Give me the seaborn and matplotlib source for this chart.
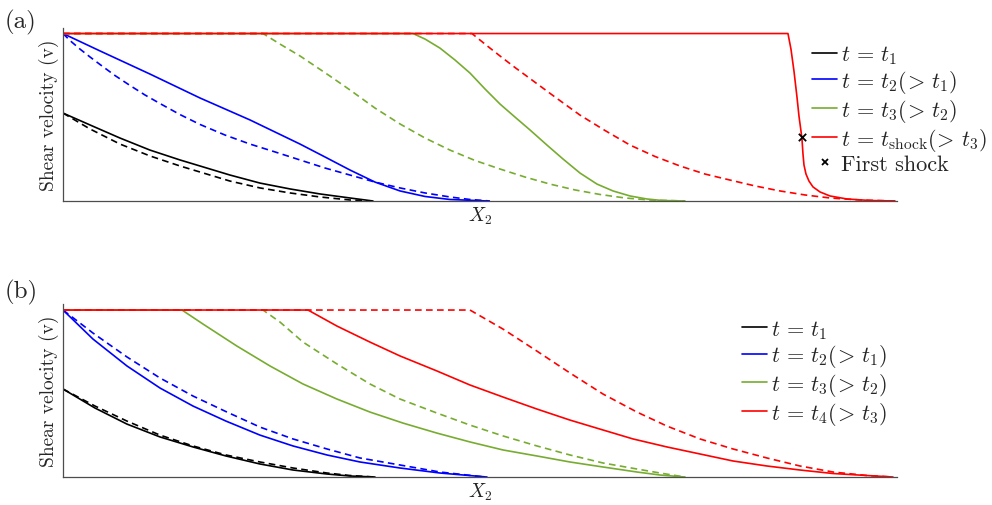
import matplotlib
matplotlib.use("Agg")
import matplotlib.pyplot as plt
import seaborn as sns
from matplotlib.lines import Line2D

sns.set_theme(style="white")
plt.rcParams["font.family"] = "serif"
plt.rcParams["font.serif"] = ["cmr10"]
plt.rcParams["mathtext.fontset"] = "cm"
plt.rcParams["axes.unicode_minus"] = False

# X2 in percent of the domain, v normalised to the boundary velocity
# panel (a): nonlinear (solid) vs linear (dashed) profiles
a_t1_x = [0, 3.24, 6.83, 10.43, 14.03, 16.43, 20.02, 23.62, 27.22, 30.82, 34.41, 37.17]
a_t1_v = [0.525, 0.454, 0.376, 0.304, 0.245, 0.209, 0.155, 0.107, 0.072, 0.042, 0.018, 0.0]
a_t1_lin_x = [0, 3.24, 6.83, 10.43, 14.03, 16.43, 20.02, 23.62, 27.22, 30.82, 34.41, 36.81]
a_t1_lin_v = [0.525, 0.430, 0.340, 0.269, 0.209, 0.173, 0.119, 0.078, 0.048, 0.024, 0.006, 0.0]

a_t2_x = [0, 4.44, 10.43, 16.43, 22.42, 28.42, 31.41, 34.41, 37.41, 40.41, 43.41, 46.40, 50.96]
a_t2_v = [1.0, 0.896, 0.758, 0.615, 0.484, 0.340, 0.263, 0.185, 0.113, 0.060, 0.027, 0.009, 0.0]
a_t2_lin_x = [0, 0.84, 2.04, 3.24, 4.44, 6.24, 8.03, 9.83, 11.63, 14.03, 16.43, 19.42, 22.42,
              25.42, 28.42, 31.41, 34.41, 37.41, 40.41, 43.41, 46.40, 48.80, 51.20]
a_t2_lin_v = [1.0, 0.958, 0.907, 0.860, 0.815, 0.749, 0.690, 0.633, 0.582, 0.516, 0.457, 0.394,
              0.340, 0.293, 0.245, 0.197, 0.155, 0.113, 0.078, 0.048, 0.024, 0.009, 0.0]

a_t3_x = [0, 41.97, 43.41, 45.20, 47.00, 48.80, 50.60, 52.40, 54.20, 56.00, 58.03, 59.95,
          61.99, 64.03, 65.95, 67.99, 70.02, 71.82, 74.58]
a_t3_v = [1.0, 1.0, 0.967, 0.913, 0.842, 0.764, 0.669, 0.579, 0.501, 0.424, 0.334, 0.251,
          0.167, 0.101, 0.060, 0.030, 0.012, 0.003, 0.0]
a_t3_lin_x = [0, 23.98, 26.02, 28.42, 30.22, 32.01, 34.41, 37.41, 40.41, 43.41, 46.40, 49.40,
              52.40, 55.40, 58.39, 61.39, 64.39, 67.39, 70.38, 74.58]
a_t3_lin_v = [1.0, 1.0, 0.937, 0.866, 0.806, 0.746, 0.663, 0.555, 0.460, 0.376, 0.304, 0.242,
              0.191, 0.143, 0.101, 0.066, 0.039, 0.018, 0.006, 0.0]

a_ts_x = [0, 86.93, 87.29, 87.65, 88.01, 88.25, 88.49, 88.61, 88.73, 88.85, 89.09, 89.45,
          89.93, 90.77, 91.97, 94.00, 96.76, 99.76]
a_ts_v = [1.0, 1.0, 0.907, 0.776, 0.621, 0.507, 0.418, 0.370, 0.281, 0.215, 0.161, 0.119,
          0.084, 0.054, 0.030, 0.012, 0.003, 0.0]
a_ts_lin_x = [0, 49.04, 50.00, 51.20, 52.40, 54.20, 56.00, 58.99, 61.99, 64.99, 67.99, 70.98,
              73.98, 76.98, 79.98, 82.97, 85.97, 88.97, 91.97, 95.56, 99.76]
a_ts_lin_v = [1.0, 1.0, 0.961, 0.913, 0.866, 0.797, 0.731, 0.621, 0.513, 0.421, 0.334, 0.266,
              0.209, 0.161, 0.125, 0.090, 0.060, 0.036, 0.018, 0.006, 0.0]

shock_x = [88.58]
shock_v = [0.38]

# panel (b)
b_t1_x = [0, 3.84, 7.67, 11.63, 15.59, 19.54, 23.62, 27.58, 31.65, 34.41, 37.41]
b_t1_v = [0.527, 0.413, 0.317, 0.240, 0.180, 0.126, 0.078, 0.042, 0.018, 0.006, 0.0]
b_t1_lin_x = [0, 3.84, 7.67, 11.63, 15.59, 19.54, 23.62, 27.58, 31.65, 34.41, 37.41]
b_t1_lin_v = [0.527, 0.425, 0.335, 0.251, 0.186, 0.132, 0.090, 0.054, 0.024, 0.009, 0.0]

b_t2_x = [0, 3.60, 7.67, 11.63, 15.59, 19.54, 23.62, 27.58, 31.65, 35.61, 40.41, 45.20, 50.84]
b_t2_v = [1.0, 0.826, 0.665, 0.533, 0.425, 0.335, 0.251, 0.186, 0.132, 0.090, 0.054, 0.024, 0.0]
b_t2_lin_x = [0, 3.60, 7.67, 11.63, 15.59, 19.66, 23.62, 27.58, 31.65, 35.61, 40.41, 45.20, 50.60]
b_t2_lin_v = [1.0, 0.862, 0.719, 0.593, 0.485, 0.389, 0.299, 0.228, 0.168, 0.114, 0.072, 0.030, 0.0]

b_t3_x = [0, 14.27, 16.79, 20.86, 24.82, 28.78, 32.85, 36.81, 40.77, 44.84, 48.80, 52.76,
          56.83, 60.79, 64.75, 68.82, 71.58, 74.58]
b_t3_v = [1.0, 1.0, 0.916, 0.784, 0.665, 0.557, 0.467, 0.389, 0.323, 0.263, 0.210, 0.162,
          0.126, 0.090, 0.060, 0.030, 0.012, 0.0]
b_t3_lin_x = [0, 23.98, 26.02, 28.78, 32.85, 36.81, 40.41, 44.84, 48.80, 52.76, 56.83,
              60.79, 64.75, 68.82, 71.58, 74.58]
b_t3_lin_v = [1.0, 1.0, 0.928, 0.808, 0.677, 0.557, 0.467, 0.383, 0.311, 0.246, 0.186,
              0.132, 0.084, 0.048, 0.024, 0.0]

b_t4_x = [0, 29.38, 32.85, 36.81, 40.41, 44.84, 48.80, 52.76, 56.83, 60.79, 64.39, 68.35,
          72.42, 76.38, 80.34, 84.41, 88.37, 92.33, 96.40, 99.52]
b_t4_v = [1.0, 1.0, 0.904, 0.808, 0.725, 0.635, 0.551, 0.479, 0.407, 0.341, 0.287, 0.228,
          0.180, 0.138, 0.096, 0.066, 0.042, 0.021, 0.009, 0.0]
b_t4_lin_x = [0, 48.80, 52.76, 56.83, 60.79, 64.75, 68.82, 72.42, 76.38, 80.34, 84.41,
              88.37, 92.33, 96.40, 99.52]
b_t4_lin_v = [1.0, 1.0, 0.886, 0.754, 0.623, 0.497, 0.389, 0.305, 0.228, 0.168, 0.114,
              0.066, 0.030, 0.009, 0.0]

colors = ["black", "#0000FF", "#77AC30", "#FF0000"]
labels_a = [r"$t\,=\,t_1$", r"$t\,=\,t_2(\!>\,t_1)$", r"$t\,=\,t_3(\!>\,t_2)$",
            r"$t\,=\,t_{\rm shock}(\!>\,t_3)$", "First shock"]
labels_b = [r"$t\,=\,t_1$", r"$t\,=\,t_2(\!>\,t_1)$", r"$t\,=\,t_3(\!>\,t_2)$",
            r"$t\,=\,t_4(\!>\,t_3)$"]

curves_a = [(a_t1_x, a_t1_v, a_t1_lin_x, a_t1_lin_v),
            (a_t2_x, a_t2_v, a_t2_lin_x, a_t2_lin_v),
            (a_t3_x, a_t3_v, a_t3_lin_x, a_t3_lin_v),
            (a_ts_x, a_ts_v, a_ts_lin_x, a_ts_lin_v)]
curves_b = [(b_t1_x, b_t1_v, b_t1_lin_x, b_t1_lin_v),
            (b_t2_x, b_t2_v, b_t2_lin_x, b_t2_lin_v),
            (b_t3_x, b_t3_v, b_t3_lin_x, b_t3_lin_v),
            (b_t4_x, b_t4_v, b_t4_lin_x, b_t4_lin_v)]

LW = 1.2
dash = (0, (4, 2.6))

fig = plt.figure(figsize=(9.92, 5.06), dpi=100)
ax_a = fig.add_axes([0.0635, 0.6008, 0.8407, 0.3419])
ax_b = fig.add_axes([0.0635, 0.0553, 0.8407, 0.3419])


def draw_panel(ax, curves, ytop):
    for (xs, vs, xl, vl), c in zip(curves, colors):
        sns.lineplot(x=xs, y=vs, ax=ax, color=c, lw=LW, estimator=None, sort=False, legend=False)
        sns.lineplot(x=xl, y=vl, ax=ax, color=c, lw=LW, linestyle=dash, estimator=None,
                     sort=False, legend=False)
    ax.set_xlim(0, 100)
    ax.set_ylim(0, ytop)
    ax.set_xticks([])
    ax.set_yticks([])
    for s in ["top", "right"]:
        ax.spines[s].set_visible(False)
    for s in ["left", "bottom"]:
        ax.spines[s].set_color("0.3")
        ax.spines[s].set_linewidth(0.9)
    ax.set_ylabel("Shear velocity (v)", fontsize=14, labelpad=3)
    ax.set_xlabel(r"$X_2$", fontsize=14, labelpad=3)


draw_panel(ax_a, curves_a, 1.033)
draw_panel(ax_b, curves_b, 1.036)

sns.scatterplot(x=shock_x, y=shock_v, ax=ax_a, marker="x", color="black", s=28,
                linewidth=1.3, zorder=5, legend=False)

handles = [Line2D([], [], color=c, lw=LW) for c in colors]
shock_handle = Line2D([], [], color="black", marker="x", linestyle="none",
                      markersize=5, markeredgewidth=1.3)

leg_kw = dict(loc="upper left", frameon=False, fontsize=16, handlelength=1.15,
              handletextpad=0.15, borderpad=0, borderaxespad=0, labelspacing=0.08)
ax_a.legend(handles + [shock_handle], labels_a, bbox_to_anchor=(0.898, 0.91), **leg_kw)
ax_b.legend(handles, labels_b, bbox_to_anchor=(0.814, 0.92), **leg_kw)

fig.text(5 / 992, 1 - 22 / 506, "(a)", fontsize=18, va="center", ha="left")
fig.text(5 / 992, 1 - 292 / 506, "(b)", fontsize=18, va="center", ha="left")

fig.savefig("out.png", dpi=100)
